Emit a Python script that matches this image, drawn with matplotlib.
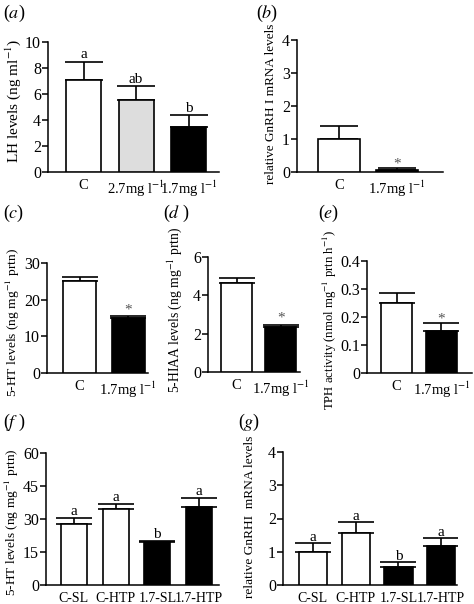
import matplotlib
matplotlib.use('Agg')
import matplotlib.pyplot as plt
import numpy as np

plt.rcParams['font.family'] = ['Liberation Serif', 'DejaVu Serif']
plt.rcParams['mathtext.fontset'] = 'stix'
plt.rcParams['font.size'] = 10

# (a) LH levels
a_labels = ['C', '2.7mg l$^{-1}$', '1.7mg l$^{-1}$']
a_vals = [7.05, 5.55, 3.45]
a_errs = [1.45, 1.05, 0.9]
a_marks = ['a', 'ab', 'b']

# (b) GnRH I mRNA
b_labels = ['C', '1.7mg l$^{-1}$']
b_vals = [1.0, 0.06]
b_errs = [0.38, 0.06]
b_marks = ['', '*']

# (c) 5-HT
c_labels = ['C', '1.7mg l$^{-1}$']
c_vals = [25.2, 14.9]
c_errs = [1.1, 0.6]
c_marks = ['', '*']

# (d) 5-HIAA
d_labels = ['C', '1.7mg l$^{-1}$']
d_vals = [4.62, 2.35]
d_errs = [0.28, 0.12]
d_marks = ['', '*']

# (e) TPH activity
e_labels = ['C', '1.7mg l$^{-1}$']
e_vals = [0.25, 0.15]
e_errs = [0.036, 0.029]
e_marks = ['', '*']

# (f) 5-HT with treatments
f_labels = ['C-SL', 'C-HTP', '1.7-SL', '1.7-HTP']
f_vals = [27.7, 34.5, 19.5, 35.5]
f_errs = [2.8, 2.2, 0.5, 4.0]
f_marks = ['a', 'a', 'b', 'a']

# (g) GnRH I mRNA with treatments
g_labels = ['C-SL', 'C-HTP', '1.7-SL', '1.7-HTP']
g_vals = [1.0, 1.57, 0.53, 1.18]
g_errs = [0.25, 0.33, 0.17, 0.22]
g_marks = ['a', 'a', 'b', 'a']

W, H = 474, 604
fig = plt.figure(figsize=(W / 100, H / 100), dpi=100)


def px_axes(left, right, top, bottom):
    return fig.add_axes([left / W, 1 - bottom / H, (right - left) / W, (bottom - top) / H])


def bar_panel(box, vals, errs, colors, labels, marks, ylim, yticks, ylabel,
              xlim, width, capsize, tag, tag_xy, mark_off, ylabel_xy, ylabel_fs, xtick_fs=10.5):
    ax = px_axes(*box)
    x = np.arange(len(vals))
    ax.bar(x, vals, width=width, color=colors, edgecolor='black', linewidth=1.2, zorder=3)
    ax.errorbar(x, vals, yerr=[np.zeros(len(vals)), errs], fmt='none', ecolor='black',
                elinewidth=1.2, capsize=capsize, capthick=1.2, zorder=2)
    for xi, v, e, m in zip(x, vals, errs, marks):
        if m:
            ax.text(xi, v + e + mark_off, m, ha='center', va='bottom', fontsize=11,
                    color='#555555' if m == '*' else 'black')
    ax.set_xlim(*xlim)
    ax.set_ylim(*ylim)
    ax.set_yticks(yticks)
    ax.set_yticklabels([f'{t:g}' for t in yticks], fontsize=11.5)
    ax.set_xticks(x)
    ax.set_xticklabels(labels, fontsize=xtick_fs)
    ax.tick_params(axis='x', length=0, pad=5)
    ax.tick_params(axis='y', direction='out', length=4, width=1.1, pad=1)
    for s in ['top', 'right']:
        ax.spines[s].set_visible(False)
    for s in ['left', 'bottom']:
        ax.spines[s].set_linewidth(1.1)
    ax.set_ylabel(ylabel, fontsize=ylabel_fs)
    lx = (ylabel_xy[0] - box[0]) / (box[1] - box[0])
    ly = (box[3] - ylabel_xy[1]) / (box[3] - box[2])
    ax.yaxis.set_label_coords(lx, ly)
    fig.text(tag_xy[0] / W, 1 - tag_xy[1] / H, tag, fontsize=13, ha='left', va='center')
    return ax


white = 'white'
black = 'black'
grey = '#dddddd'

bar_panel((48, 219, 42, 172), a_vals, a_errs, [white, grey, black], a_labels, a_marks,
          (0, 10), [0, 2, 4, 6, 8, 10], 'LH levels (ng ml$^{-1}$)',
          (-0.676, 2.58), 0.667, 14, '($\\mathit{a}$)', (3, 13), 0.0, (23, 101), 11)

bar_panel((297, 443, 40, 172), b_vals, b_errs, [white, black], b_labels, b_marks,
          (0, 4), [0, 1, 2, 3, 4], 'relative GnRH I mRNA levels',
          (-0.72, 1.78), 0.72, 14, '($\\mathit{b}$)', (256, 13), -0.08, (277, 104), 9.5)

bar_panel((47, 148, 263, 373), c_vals, c_errs, [white, black], c_labels, c_marks,
          (0, 30), [0, 10, 20, 30], '5-HT levels (ng mg$^{-1}$ prtn)',
          (-0.67, 1.41), 0.68, 13, '($\\mathit{c}$)', (3, 213), 0.0, (22, 322), 9.7)

bar_panel((208, 300, 257, 372), d_vals, d_errs, [white, black], d_labels, d_marks,
          (0, 6), [0, 2, 4, 6], '5-HIAA levels (ng mg$^{-1}$ prtn)',
          (-0.65, 1.44), 0.70, 13, '($\\mathit{d}$ )', (163, 213), 0.0, (184, 310), 9.8)

bar_panel((367, 472, 261, 373), e_vals, e_errs, [white, black], e_labels, e_marks,
          (0, 0.4), [0, 0.1, 0.2, 0.3, 0.4], 'TPH activity (nmol mg$^{-1}$ prtn h$^{-1}$)',
          (-0.66, 1.68), 0.69, 13, '($\\mathit{e}$)', (318, 213), -0.008, (339, 320), 9.2)

bar_panel((46, 219, 453, 585), f_vals, f_errs, [white, white, black, black], f_labels, f_marks,
          (0, 60), [0, 15, 30, 45, 60], '5-HT levels (ng mg$^{-1}$ prtn)',
          (-0.67, 3.48), 0.62, 13, '($\\mathit{f}$ )', (3, 422), 0.0, (21, 522), 9.6, 10)

bar_panel((283, 457, 452, 585), g_vals, g_errs, [white, white, black, black], g_labels, g_marks,
          (0, 4), [0, 1, 2, 3, 4], 'relative GnRHI  mRNA levels',
          (-0.70, 3.37), 0.66, 13, '($\\mathit{g}$)', (238, 422), -0.03, (256, 517), 9.6, 10)

fig.savefig('out.png', dpi=100)
